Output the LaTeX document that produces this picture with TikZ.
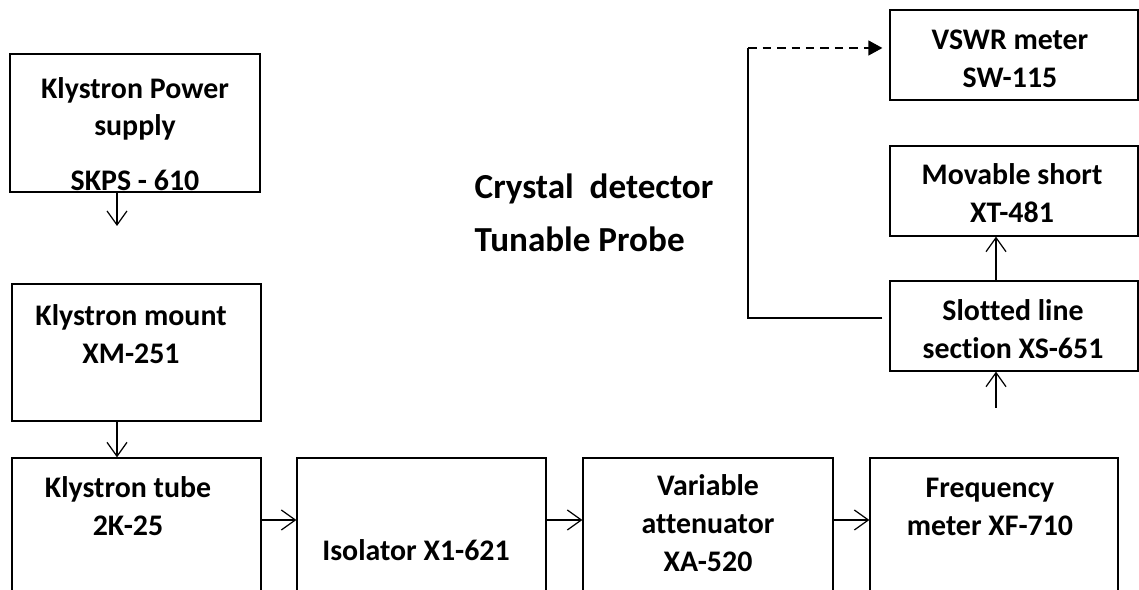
\documentclass[tikz,border=0pt]{standalone}
\usepackage{fontspec}
\setmainfont{Carlito}[Ligatures=CommonOff]
\usetikzlibrary{arrows.meta}
\begin{document}
\begin{tikzpicture}[x=0.02cm, y=-0.02cm, line width=0.75pt,
  >={Straight Barb[length=0.28cm, width=0.4cm]},
  box/.style={draw, inner sep=0pt, minimum width=4.98cm, minimum height=1.8cm},
  tallbox/.style={box, minimum height=4cm},
  lbl/.style={font=\bfseries\fontsize{17}{21.5}\selectfont, align=center, inner sep=0pt},
  link/.style={->, line width=0.7pt}]
\useasboundingbox (0,0) rectangle (1139,590);
\clip (0,0) rectangle (1139,590);
% left column
\node[box, minimum width=5cm, minimum height=2.76cm] (psbox) at (135,123) {};
\node[lbl] (pstext) at (135,134) {Klystron Power\\supply\\[0.34cm]SKPS - 610};
\node[box, minimum height=2.74cm] (mountbox) at (136.5,352.5) {};
\node[lbl] (mounttext) at (131,334) {Klystron mount\\XM-251};
% bottom row, cut off at the lower edge
\node[tallbox] (tubebox) at (136.5,558) {};
\node[lbl] (tubetext) at (128,506) {Klystron tube\\2K-25};
\node[tallbox] (isobox) at (421.5,558) {};
\node[lbl] (isotext) at (416,550) {Isolator X1-621};
\node[tallbox, minimum width=5cm] (attbox) at (708,558) {};
\node[lbl] (atttext) at (708,523) {Variable\\attenuator\\XA-520};
\node[tallbox, minimum width=4.96cm] (freqbox) at (994,558) {};
\node[lbl] (freqtext) at (990,507) {Frequency\\meter XF-710};
% right column
\node[box, minimum width=4.96cm] (vswrbox) at (1014,55) {};
\node[lbl] (vswrtext) at (1010,59) {VSWR meter\\SW-115};
\node[box, minimum width=4.96cm] (shortbox) at (1014,191) {};
\node[lbl] (shorttext) at (1012,193) {Movable short\\XT-481};
\node[box, minimum width=4.96cm] (slotbox) at (1014,326) {};
\node[lbl] (slottext) at (1013,329) {Slotted line\\section XS-651};
\node[font=\bfseries\fontsize{20}{30}\selectfont, align=left, inner sep=0pt, anchor=west] (probe) at (474,213) {Crystal\ \ detector\\Tunable Probe};
% connectors
\coordinate (drop) at (117,226);
\coordinate (row) at (0,520);
\coordinate (feed) at (996,408);
\coordinate (bend) at (748,318);
\coordinate (top) at (748,48);
\draw[link] (psbox.south -| drop) -- (drop);
\draw[link] (mountbox.south -| drop) -- (tubebox.north -| drop);
\draw[link] (tubebox.east |- row) -- (isobox.west |- row);
\draw[link] (isobox.east |- row) -- (attbox.west |- row);
\draw[link] (attbox.east |- row) -- (freqbox.west |- row);
\draw[link] (feed) -- (slotbox.south -| feed);
\draw[link] (slotbox.north -| feed) -- (shortbox.south -| feed);
\draw[shorten <=0.14cm] (slotbox.west |- bend) -- (bend) -- (top);
\draw[dashed, dash pattern=on 0.17cm off 0.12cm, -{Triangle[length=0.28cm, width=0.3cm]}, shorten >=0.14cm] (top) -- (vswrbox.west |- top);
\end{tikzpicture}
\end{document}
